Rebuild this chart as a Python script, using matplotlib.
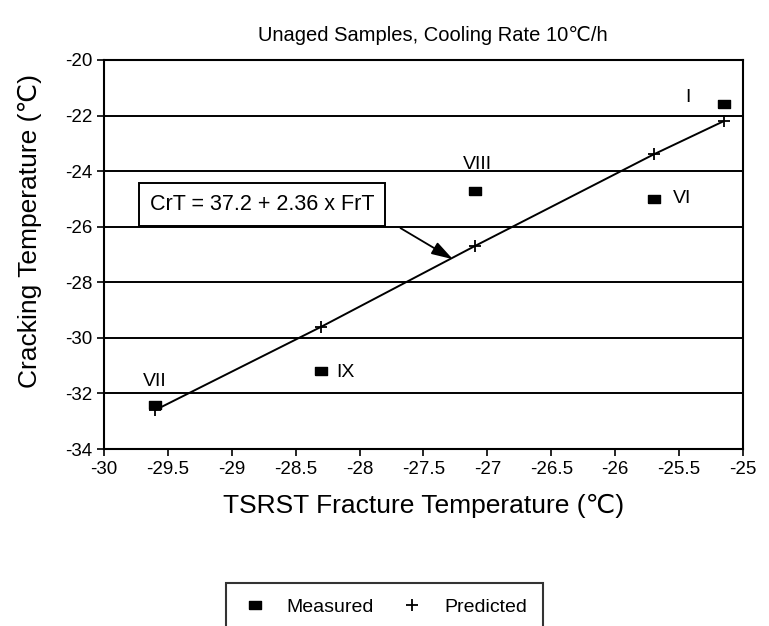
import matplotlib
matplotlib.use('Agg')
import matplotlib.pyplot as plt

plt.rcParams['font.family'] = ['Liberation Sans', 'DejaVu Sans']
plt.rcParams['axes.unicode_minus'] = False

# TSRST fracture temperature and cracking temperature, deg C
samples = ['VII', 'IX', 'VIII', 'VI', 'I']
frt = [-29.6, -28.3, -27.1, -25.7, -25.15]
measured = [-32.4, -31.2, -24.7, -25.0, -21.6]
predicted = [-32.6, -29.6, -26.7, -23.4, -22.2]

# sample label positions (x, y, horizontal alignment)
label_pos = {
    'VII': (-29.6, -31.57, 'center'),
    'IX': (-28.18, -31.25, 'left'),
    'VIII': (-27.08, -23.75, 'center'),
    'VI': (-25.55, -25.0, 'left'),
    'I': (-25.43, -21.35, 'center'),
}

# slightly flattened square for the measured points
rect = [(-1, -0.7), (1, -0.7), (1, 0.7), (-1, 0.7), (-1, -0.7)]

fig = plt.figure(figsize=(7.69, 6.26), dpi=100)
ax = fig.add_axes([0.1352, 0.2827, 0.831, 0.6215])

# regression line through predicted values
ax.plot(frt, predicted, color='black', lw=1.4, zorder=3)
ax.plot(frt, predicted, ls='none', marker='+', ms=9, mew=1.3,
        color='black', label='Predicted', zorder=4)
ax.plot(frt, measured, ls='none', marker=rect, ms=8.5,
        color='black', label='Measured', zorder=4)

for s in samples:
    x, y, ha = label_pos[s]
    ax.text(x, y, s, ha=ha, va='center', fontsize=14)

ax.text(-28.76, -25.2, 'CrT = 37.2 + 2.36 x FrT', ha='center', va='center',
        fontsize=15.5, zorder=5,
        bbox=dict(boxstyle='square,pad=0.5', fc='white', ec='black', lw=1.4))
ax.annotate('', xy=(-27.27, -27.17), xytext=(-27.68, -26.05),
            arrowprops=dict(arrowstyle='-|>,head_length=1.3,head_width=0.4',
                            color='black', lw=1.3, shrinkA=0, shrinkB=0),
            zorder=5)

ax.set_xlim(-30, -25)
ax.set_ylim(-34, -20)
ax.set_xticks([-30, -29.5, -29, -28.5, -28, -27.5, -27, -26.5, -26, -25.5, -25])
ax.set_xticklabels(['-30', '-29.5', '-29', '-28.5', '-28', '-27.5', '-27',
                    '-26.5', '-26', '-25.5', '-25'])
ax.set_yticks(range(-34, -19, 2))
ax.yaxis.grid(True, color='black', lw=1.4)
ax.set_axisbelow(True)
ax.tick_params(axis='both', direction='out', length=5, width=1.2,
               labelsize=13.5, colors='black')
for sp in ax.spines.values():
    sp.set_linewidth(1.5)

ax.set_title('Unaged Samples, Cooling Rate 10\u2103/h', fontsize=14.5,
             x=0.515, pad=14)
ax.set_xlabel('TSRST Fracture Temperature (\u2103)', fontsize=19)
ax.xaxis.set_label_coords(0.5, -0.115)
ax.set_ylabel('Cracking Temperature (\u2103)', fontsize=19)
ax.yaxis.set_label_coords(-0.097, 0.56)

handles, labels = ax.get_legend_handles_labels()
leg = fig.legend(handles[::-1], labels[::-1], loc='upper center',
                 bbox_to_anchor=(0.5, 0.085), ncol=2, fontsize=14,
                 frameon=True, fancybox=False, borderpad=0.8,
                 handlelength=1.3, columnspacing=1.3, handletextpad=1.0)
leg.get_frame().set_edgecolor('black')
leg.get_frame().set_linewidth(1.5)

fig.savefig('out.png', dpi=100)
